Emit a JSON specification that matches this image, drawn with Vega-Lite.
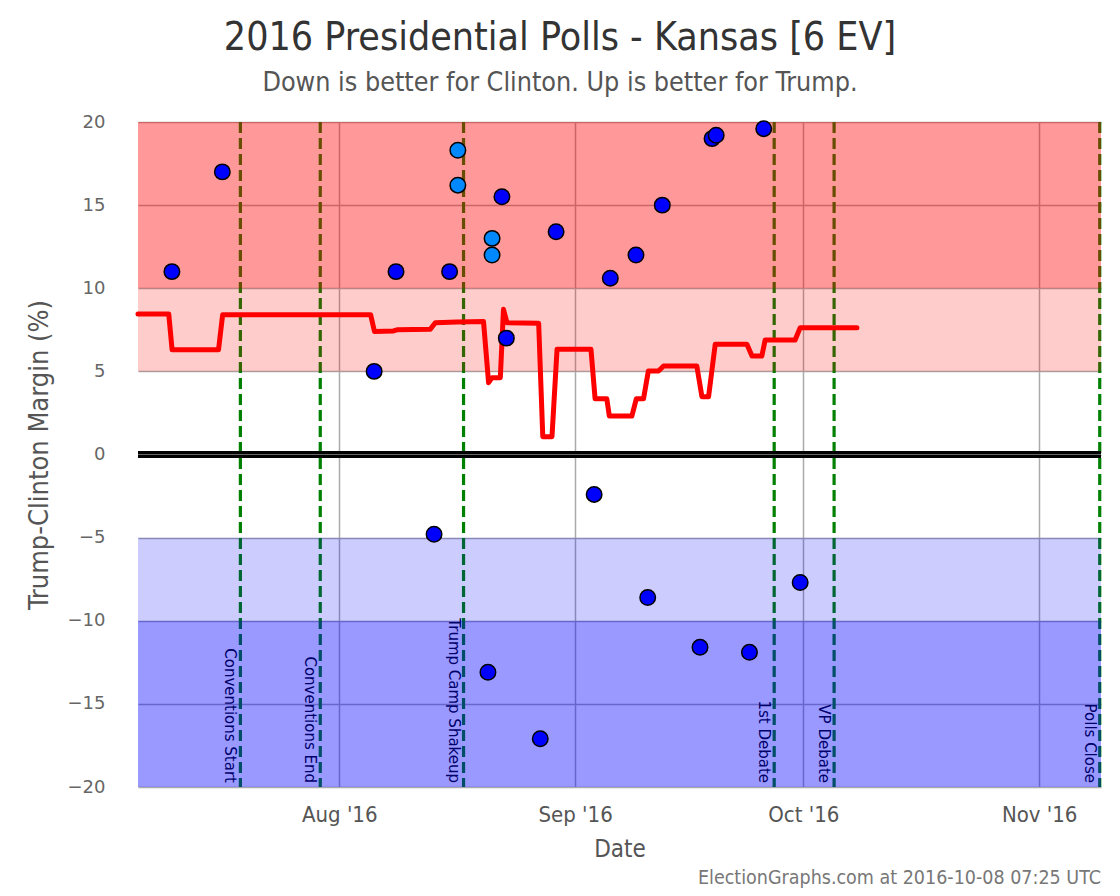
{
  "$schema": "https://vega.github.io/schema/vega-lite/v6.json",
  "width": 963,
  "height": 665,
  "autosize": {"type": "none"},
  "padding": {"left": 138, "top": 122, "right": 19, "bottom": 109},
  "background": "white",
  "config": {
    "view": {"stroke": null},
    "font": "DejaVu Sans Condensed",
    "axis": {"domain": false, "ticks": false, "gridColor": "#aaaaaa", "gridWidth": 1.5, "labelColor": "#555555", "titleColor": "#555555", "titleFontWeight": "normal"}
  },
  "title": {
    "text": "2016 Presidential Polls - Kansas [6 EV]",
    "subtitle": "Down is better for Clinton. Up is better for Trump.",
    "anchor": "middle",
    "dx": -59.5,
    "font": "DejaVu Sans Condensed",
    "fontSize": 39,
    "fontWeight": "normal",
    "color": "#333333",
    "subtitleFont": "DejaVu Sans Condensed",
    "subtitleFontSize": 26.7,
    "subtitleColor": "#555555",
    "subtitlePadding": 12,
    "offset": 16
  },
  "datasets": {
    "line": [
      {"date": "2016-07-05T13:00", "margin": 8.45},
      {"date": "2016-07-09T14:00", "margin": 8.45},
      {"date": "2016-07-10T00:30", "margin": 6.3},
      {"date": "2016-07-16T03:00", "margin": 6.3},
      {"date": "2016-07-16T16:00", "margin": 8.4},
      {"date": "2016-08-05T03:00", "margin": 8.4},
      {"date": "2016-08-05T15:00", "margin": 7.4},
      {"date": "2016-08-08T03:00", "margin": 7.43},
      {"date": "2016-08-08T14:00", "margin": 7.5},
      {"date": "2016-08-12T23:00", "margin": 7.53},
      {"date": "2016-08-13T15:00", "margin": 7.93},
      {"date": "2016-08-16T11:00", "margin": 7.97},
      {"date": "2016-08-19T23:00", "margin": 8.0},
      {"date": "2016-08-20T15:00", "margin": 4.32},
      {"date": "2016-08-21T02:00", "margin": 4.62},
      {"date": "2016-08-22T04:00", "margin": 4.62},
      {"date": "2016-08-22T14:00", "margin": 8.73},
      {"date": "2016-08-23T01:00", "margin": 7.93},
      {"date": "2016-08-27T05:00", "margin": 7.89},
      {"date": "2016-08-27T18:00", "margin": 1.07},
      {"date": "2016-08-28T23:00", "margin": 1.07},
      {"date": "2016-08-29T15:00", "margin": 6.33},
      {"date": "2016-09-03T02:00", "margin": 6.33},
      {"date": "2016-09-03T15:00", "margin": 3.35},
      {"date": "2016-09-05T04:00", "margin": 3.35},
      {"date": "2016-09-05T12:00", "margin": 2.31},
      {"date": "2016-09-08T11:00", "margin": 2.31},
      {"date": "2016-09-09T01:00", "margin": 3.35},
      {"date": "2016-09-09T23:45", "margin": 3.35},
      {"date": "2016-09-10T15:00", "margin": 5.02},
      {"date": "2016-09-11T23:00", "margin": 5.02},
      {"date": "2016-09-12T15:00", "margin": 5.32},
      {"date": "2016-09-17T00:00", "margin": 5.32},
      {"date": "2016-09-17T16:00", "margin": 3.48},
      {"date": "2016-09-18T13:00", "margin": 3.48},
      {"date": "2016-09-19T10:00", "margin": 6.63},
      {"date": "2016-09-23T14:00", "margin": 6.63},
      {"date": "2016-09-24T06:00", "margin": 5.92},
      {"date": "2016-09-25T13:00", "margin": 5.92},
      {"date": "2016-09-25T23:30", "margin": 6.89},
      {"date": "2016-09-29T22:00", "margin": 6.89},
      {"date": "2016-09-30T14:00", "margin": 7.63},
      {"date": "2016-10-08T01:00", "margin": 7.63}
    ],
    "polls": [
      {"date": "2016-07-10T00:00", "margin": 11, "kind": "single"},
      {"date": "2016-07-16T15:00", "margin": 17, "kind": "single"},
      {"date": "2016-08-05T14:00", "margin": 5, "kind": "single"},
      {"date": "2016-08-08T11:00", "margin": 11, "kind": "single"},
      {"date": "2016-08-13T11:00", "margin": -4.8, "kind": "single"},
      {"date": "2016-08-15T12:00", "margin": 11, "kind": "single"},
      {"date": "2016-08-16T14:00", "margin": 18.3, "kind": "multi"},
      {"date": "2016-08-16T14:00", "margin": 16.2, "kind": "multi"},
      {"date": "2016-08-20T13:00", "margin": -13.1, "kind": "single"},
      {"date": "2016-08-21T02:00", "margin": 13, "kind": "multi"},
      {"date": "2016-08-21T02:00", "margin": 12, "kind": "multi"},
      {"date": "2016-08-22T09:00", "margin": 15.5, "kind": "single"},
      {"date": "2016-08-22T23:00", "margin": 7, "kind": "single"},
      {"date": "2016-08-27T10:00", "margin": -17.1, "kind": "single"},
      {"date": "2016-08-29T12:00", "margin": 13.4, "kind": "single"},
      {"date": "2016-09-03T12:00", "margin": -2.4, "kind": "single"},
      {"date": "2016-09-05T15:00", "margin": 10.6, "kind": "single"},
      {"date": "2016-09-09T00:00", "margin": 12, "kind": "single"},
      {"date": "2016-09-10T13:00", "margin": -8.6, "kind": "single"},
      {"date": "2016-09-12T11:00", "margin": 15, "kind": "single"},
      {"date": "2016-09-17T10:00", "margin": -11.6, "kind": "single"},
      {"date": "2016-09-19T00:00", "margin": 19, "kind": "single"},
      {"date": "2016-09-19T13:00", "margin": 19.2, "kind": "single"},
      {"date": "2016-09-23T22:00", "margin": -11.9, "kind": "single"},
      {"date": "2016-09-25T19:00", "margin": 19.6, "kind": "single"},
      {"date": "2016-09-30T14:00", "margin": -7.7, "kind": "single"}
    ],
    "events": [
      {"date": "2016-07-19T00:00", "label": "Conventions Start"},
      {"date": "2016-07-29T12:00", "label": "Conventions End"},
      {"date": "2016-08-17T08:00", "label": "Trump Camp Shakeup"},
      {"date": "2016-09-27T04:00", "label": "1st Debate"},
      {"date": "2016-10-05T01:00", "label": "VP Debate"},
      {"date": "2016-11-08T23:00", "label": "Polls Close"}
    ],
    "bands": [
      {"lo": 10, "hi": 20, "side": "Trump", "strength": 0.4},
      {"lo": 5, "hi": 10, "side": "Trump", "strength": 0.2},
      {"lo": -10, "hi": -5, "side": "Clinton", "strength": 0.2},
      {"lo": -20, "hi": -10, "side": "Clinton", "strength": 0.4}
    ],
    "footer": [{"text": "ElectionGraphs.com at 2016-10-08 07:25 UTC"}]
  },
  "layer": [
    {
      "data": {"name": "events"},
      "mark": {"type": "rule", "color": "#008000", "strokeWidth": 3.2, "strokeDash": [11, 5]},
      "encoding": {
        "x": {
          "field": "date", "type": "temporal",
          "scale": {"domain": [{"year": 2016, "month": 7, "date": 5, "hours": 13}, {"year": 2016, "month": 11, "date": 9, "hours": 3}]},
          "axis": {
            "values": [{"year": 2016, "month": 8, "date": 1}, {"year": 2016, "month": 9, "date": 1}, {"year": 2016, "month": 10, "date": 1}, {"year": 2016, "month": 11, "date": 1}],
            "format": "%b '%y",
            "title": "Date",
            "labelFontSize": 22,
            "labelPadding": 17,
            "titleFontSize": 24,
            "titlePadding": 12,
            "grid": true
          }
        }
      }
    },
    {
      "data": {"name": "events"},
      "mark": {"type": "text", "angle": 90, "align": "right", "baseline": "top", "dx": -4, "dy": 3, "font": "DejaVu Sans", "fontSize": 15, "color": "black"},
      "encoding": {
        "x": {"field": "date", "type": "temporal"},
        "y": {"datum": -20, "type": "quantitative"},
        "text": {"field": "label"}
      }
    },
    {
      "data": {"name": "bands"},
      "mark": {"type": "rect"},
      "encoding": {
        "x": {"datum": {"year": 2016, "month": 7, "date": 5, "hours": 13}, "type": "temporal"},
        "x2": {"datum": {"year": 2016, "month": 11, "date": 9, "hours": 3}},
        "y": {
          "field": "lo", "type": "quantitative",
          "scale": {"domain": [-20, 20], "nice": false, "zero": false},
          "axis": {
            "values": [-20, -15, -10, -5, 0, 5, 10, 15, 20],
            "title": "Trump-Clinton Margin (%)",
            "labelFont": "DejaVu Sans",
            "labelFontSize": 18,
            "labelColor": "#666666",
            "labelPadding": 33,
            "titleFontSize": 27,
            "titlePadding": 14,
            "grid": true
          }
        },
        "y2": {"field": "hi"},
        "color": {"field": "side", "type": "nominal", "scale": {"domain": ["Trump", "Clinton"], "range": ["#ff0000", "#0000ff"]}, "legend": null},
        "opacity": {"field": "strength", "type": "quantitative", "scale": null}
      }
    },
    {
      "data": {"values": [{"v": 0}]},
      "mark": {"type": "rule", "color": "black", "strokeWidth": 7},
      "encoding": {"y": {"field": "v", "type": "quantitative"}}
    },
    {
      "data": {"values": [{"v": 0}]},
      "mark": {"type": "rule", "color": "#666666", "strokeWidth": 1},
      "encoding": {"y": {"field": "v", "type": "quantitative"}}
    },
    {
      "data": {"name": "line"},
      "mark": {"type": "line", "color": "#ff0000", "strokeWidth": 5, "strokeJoin": "round", "strokeCap": "round"},
      "encoding": {
        "x": {"field": "date", "type": "temporal"},
        "y": {"field": "margin", "type": "quantitative"}
      }
    },
    {
      "data": {"name": "polls"},
      "mark": {"type": "point", "shape": "circle", "filled": true, "size": 240, "stroke": "black", "strokeWidth": 1.5, "opacity": 1},
      "encoding": {
        "x": {"field": "date", "type": "temporal"},
        "y": {"field": "margin", "type": "quantitative"},
        "fill": {"field": "kind", "type": "nominal", "scale": {"domain": ["single", "multi"], "range": ["#0000ff", "#0088ff"]}, "legend": null}
      }
    },
    {
      "data": {"name": "footer"},
      "mark": {"type": "text", "align": "right", "baseline": "alphabetic", "dy": 97, "fontSize": 19.5, "color": "#777777"},
      "encoding": {
        "x": {"datum": {"year": 2016, "month": 11, "date": 9, "hours": 3}, "type": "temporal"},
        "y": {"datum": -20, "type": "quantitative"},
        "text": {"field": "text"}
      }
    }
  ],
  "resolve": {"scale": {"color": "independent"}}
}
